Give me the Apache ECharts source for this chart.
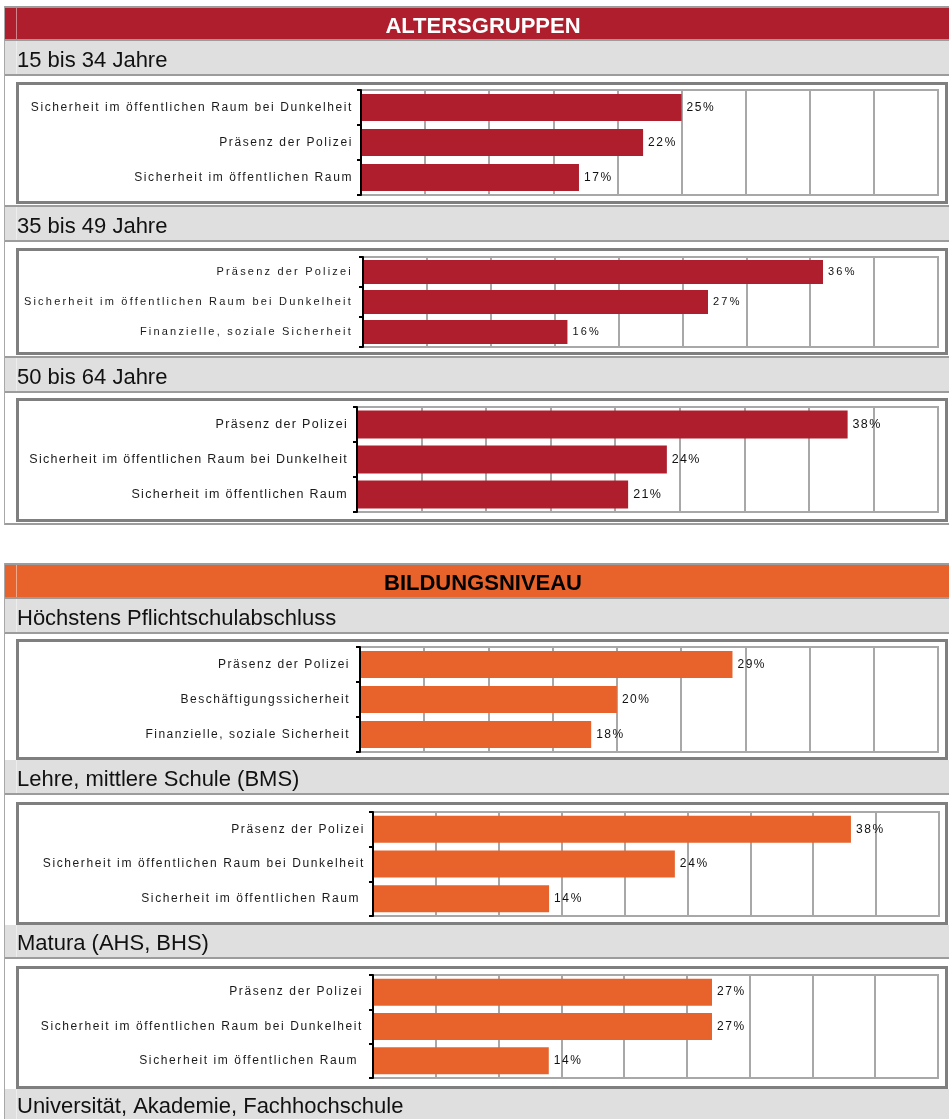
<!DOCTYPE html>
<html>
<head>
<meta charset="utf-8">
<title>Altersgruppen / Bildungsniveau</title>
<script src="https://cdn.jsdelivr.net/npm/echarts@6/dist/echarts.min.js"></script>
<style>
  html, body { margin: 0; padding: 0; background: #fff; }
  #main { width: 949px; height: 1119px; }
</style>
</head>
<body>
<div id="main"></div>
<script>
// --- data (top to bottom as printed) ---
const groupTitles = ['ALTERSGRUPPEN', 'BILDUNGSNIVEAU']
const panelTitles = [
  '15 bis 34 Jahre', '35 bis 49 Jahre', '50 bis 64 Jahre',
  'Höchstens Pflichtschulabschluss', 'Lehre, mittlere Schule (BMS)',
  'Matura (AHS, BHS)', 'Universität, Akademie, Fachhochschule'
]

const cats15to34 = ['Sicherheit im öffentlichen Raum bei Dunkelheit', 'Präsenz der Polizei', 'Sicherheit im öffentlichen Raum']
const vals15to34 = [25, 22, 17]
const cats35to49 = ['Präsenz der Polizei', 'Sicherheit im öffentlichen Raum bei Dunkelheit', 'Finanzielle, soziale Sicherheit']
const vals35to49 = [36, 27, 16]
const cats50to64 = ['Präsenz der Polizei', 'Sicherheit im öffentlichen Raum bei Dunkelheit', 'Sicherheit im öffentlichen Raum']
const vals50to64 = [38, 24, 21]
const catsPflicht = ['Präsenz der Polizei', 'Beschäftigungssicherheit', 'Finanzielle, soziale Sicherheit']
const valsPflicht = [29, 20, 18]
const catsLehre = ['Präsenz der Polizei', 'Sicherheit im öffentlichen Raum bei Dunkelheit', 'Sicherheit im öffentlichen Raum ']
const valsLehre = [38, 24, 14]
const catsMatura = ['Präsenz der Polizei', 'Sicherheit im öffentlichen Raum bei Dunkelheit', 'Sicherheit im öffentlichen Raum ']
const valsMatura = [27, 27, 14]

const xMax = 45
const xStep = 5

// --- styles ---
const RED = '#AF1E2D'
const ORANGE = '#E8632B'
const SUB = '#DFDFDF'
const LINE = '#9C9C9C'
const BOX = '#7F7F7F'
const GRIDLINE = '#A8A8A8'
const FONT = '"Liberation Sans", Arial, sans-serif'

// panel placement (px)
const panels = [
  { cats: cats15to34, vals: vals15to34, color: RED, left: 361, top: 90, width: 577, height: 105, bar: 27, font: 12, spacing: 1.6, margin: 8 },
  { cats: cats35to49, vals: vals35to49, color: RED, left: 363, top: 257, width: 575, height: 90, bar: 24, font: 11, spacing: 2.2, margin: 10 },
  { cats: cats50to64, vals: vals50to64, color: RED, left: 357, top: 407, width: 581, height: 105, bar: 28, font: 12.5, spacing: 1.3, margin: 9 },
  { cats: catsPflicht, vals: valsPflicht, color: ORANGE, left: 360, top: 647, width: 578, height: 105, bar: 27, font: 12, spacing: 1.5, margin: 10 },
  { cats: catsLehre, vals: valsLehre, color: ORANGE, left: 373, top: 812, width: 566, height: 104, bar: 27, font: 12, spacing: 1.6, margin: 8 },
  { cats: catsMatura, vals: valsMatura, color: ORANGE, left: 373, top: 975, width: 565, height: 103, bar: 27, font: 12, spacing: 1.6, margin: 10 }
]

// table rows: [y, height, fill]
const bands = [
  [6, 2, LINE], [8, 31, RED], [39, 2, LINE], [41, 33, SUB], [74, 2, LINE],
  [205, 2, LINE], [207, 33, SUB], [240, 2, LINE],
  [356, 2, LINE], [358, 33, SUB], [391, 2, LINE],
  [523, 2, LINE],
  [563, 2, LINE], [565, 32, ORANGE], [597, 2, LINE], [599, 33, SUB], [632, 2, LINE],
  [760, 33, SUB], [793, 2, LINE],
  [925, 32, SUB], [957, 2, LINE],
  [1089, 30, SUB]
]
const dividers = [[8, 31], [41, 33], [207, 33], [358, 33], [565, 32], [599, 33], [760, 33], [925, 32], [1089, 30]]
const boxes = [[82, 122], [248, 107], [398, 124], [639, 121], [802, 123], [966, 123]]
const headerPos = [[27, '#fff'], [584, '#000']]
const subY = [60.5, 226.5, 377.5, 618.5, 779.5, 944, 1107]

const graphic = []
bands.forEach(([y, h, fill]) => {
  graphic.push({ type: 'rect', silent: true, shape: { x: 5, y, width: 944, height: h }, style: { fill } })
})
dividers.forEach(([y, h]) => {
  graphic.push({ type: 'rect', silent: true, shape: { x: 16, y, width: 1, height: h }, style: { fill: 'rgba(255,255,255,0.45)' } })
})
graphic.push({ type: 'rect', silent: true, shape: { x: 4, y: 6, width: 1, height: 519 }, style: { fill: '#A8A8A8' } })
graphic.push({ type: 'rect', silent: true, shape: { x: 4, y: 563, width: 1, height: 556 }, style: { fill: '#A8A8A8' } })
boxes.forEach(([y, h]) => {
  graphic.push({
    type: 'rect', silent: true,
    shape: { x: 17.5, y: y + 1.5, width: 929, height: h - 3 },
    style: { fill: '#fff', stroke: BOX, lineWidth: 3 }
  })
})
groupTitles.forEach((t, i) => {
  graphic.push({
    type: 'text', silent: true, x: 483, y: headerPos[i][0],
    style: {
      text: t, fill: headerPos[i][1], font: 'bold 22px ' + FONT,
      align: 'center', verticalAlign: 'middle', textAlign: 'center', textVerticalAlign: 'middle'
    }
  })
})
panelTitles.forEach((t, i) => {
  graphic.push({
    type: 'text', silent: true, x: 17, y: subY[i],
    style: {
      text: t, fill: '#111', font: '22px ' + FONT,
      align: 'left', verticalAlign: 'middle', textAlign: 'left', textVerticalAlign: 'middle'
    }
  })
})

const chart = echarts.init(document.getElementById('main'))

// each panel sits on its own canvas layer so its text can get its own letter spacing
const painter = chart.getZr().painter
panels.forEach((p, i) => {
  const layer = painter.getLayer ? painter.getLayer(i + 1) : null
  if (layer && layer.ctx) layer.ctx.letterSpacing = p.spacing + 'px'
})

chart.setOption({
  animation: false,
  graphic: { elements: graphic },
  grid: panels.map((p, i) => ({
    zlevel: i + 1,
    left: p.left, top: p.top, width: p.width, height: p.height,
    show: true, borderColor: GRIDLINE, borderWidth: 2, backgroundColor: 'transparent'
  })),
  xAxis: panels.map((p, i) => ({
    type: 'value', gridIndex: i, zlevel: i + 1,
    min: 0, max: xMax, interval: xStep,
    axisLabel: { show: false }, axisLine: { show: false }, axisTick: { show: false },
    splitLine: { show: true, lineStyle: { color: GRIDLINE, width: 2 } }
  })),
  yAxis: panels.map((p, i) => ({
    type: 'category', gridIndex: i, zlevel: i + 1, z: 5,
    data: p.cats, inverse: true,
    axisLine: { show: true, lineStyle: { color: '#000', width: 2 } },
    axisTick: { show: true, length: 4, lineStyle: { color: '#000', width: 2 } },
    axisLabel: { color: '#1a1a1a', fontSize: p.font, fontFamily: FONT, margin: p.margin }
  })),
  series: panels.map((p, i) => ({
    type: 'bar', xAxisIndex: i, yAxisIndex: i, zlevel: i + 1,
    data: p.vals, barWidth: p.bar,
    itemStyle: { color: p.color },
    label: {
      show: true, position: 'right', distance: 5, formatter: '{c}%',
      color: '#111', fontSize: p.font, fontFamily: FONT
    }
  }))
})
</script>
</body>
</html>
